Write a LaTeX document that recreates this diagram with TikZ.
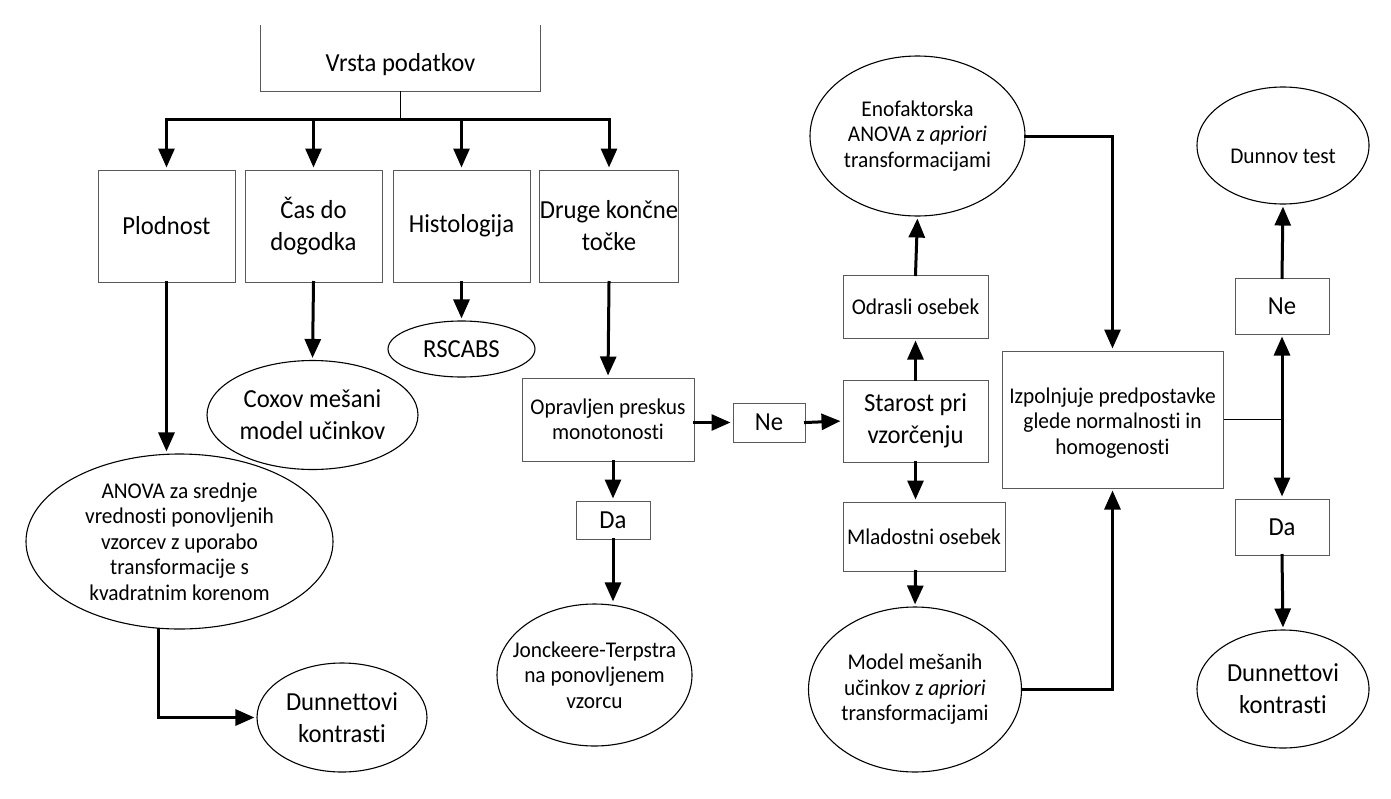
\documentclass[tikz,border=0pt]{standalone}
\usepackage{fontspec}
\setmainfont[FakeStretch=0.95,Ligatures=NoCommon]{Carlito}
\usepackage{tikz}
\usetikzlibrary{arrows.meta,positioning,shapes.geometric,calc}
\newcommand{\bigtxt}{\fontsize{26}{32}\selectfont}
\newcommand{\medtxt}{\fontsize{22.5}{25.5}\selectfont}

\begin{document}
\begin{tikzpicture}[x=1pt,y=-1pt,>={Triangle[length=19pt,width=16pt]},
  edge/.style={draw=black!65,line width=1pt},
  box/.style={rectangle,edge,inner sep=0pt,align=center,font=\bigtxt},
  smallbox/.style={box,font=\medtxt},
  oval/.style={ellipse,draw,line width=1.1pt,inner xsep=-300pt,inner ysep=-300pt,align=center,font=\medtxt},
  conn/.style={line width=3pt,line cap=rect},
  arr/.style={conn,->,shorten >=2pt}]
  \useasboundingbox (0,0) rectangle (1391,798);

  \node[font=\bigtxt,minimum width=279pt,minimum height=52pt,inner sep=0pt] (vrsta) at (400.5,65) {Vrsta podatkov};
  \draw[edge] ([yshift=14pt]vrsta.north west) -- (vrsta.south west) -- (vrsta.south east) -- ([yshift=14pt]vrsta.north east);
  \coordinate (bar) at (400.5,119);

  \node[box,minimum width=137pt,minimum height=112pt] (plod)  at (166.5,226) {Plodnost};
  \node[box,minimum width=137pt,minimum height=112pt] (cas)   at (313.5,226) {Čas do\\dogodka};
  \node[box,minimum width=137pt,minimum height=112pt] (hist)  at (461.5,226) {Histologija};
  \node[box,minimum width=138pt,minimum height=112pt] (druge) at (609,226) {Druge končne\\točke};

  \node[oval,font=\bigtxt,minimum width=147pt,minimum height=56pt] (rscabs) at (461.5,349) {RSCABS};
  \node[oval,font=\bigtxt,minimum width=211pt,minimum height=109pt] (coxov) at (312.5,415) {Coxov mešani\\model učinkov};
  \node[oval,minimum width=307pt,minimum height=175pt] (anova) at (179.5,541.5)
    {ANOVA za srednje\\vrednosti ponovljenih\\vzorcev z uporabo\\transformacije s\\kvadratnim korenom};
  \node[oval,font=\bigtxt,minimum width=170pt,minimum height=109pt] (dunL) at (342,717.5) {Dunnettovi\\kontrasti};

  \node[smallbox,minimum width=172pt,minimum height=83pt] (oprav) at (608,419.5) {Opravljen preskus\\monotonosti};
  \node[box,minimum width=74pt,minimum height=38pt] (daL) at (613,520) {Da};
  \node[oval,minimum width=195pt,minimum height=142pt] (jonck) at (594.5,675) {Jonckeere-Terpstra\\na ponovljenem\\vzorcu};
  \node[box,minimum width=72pt,minimum height=39pt] (neL) at (769,422.5) {Ne};

  \node[box,minimum width=145pt,minimum height=82pt] (starost) at (915.5,421) {Starost pri\\vzorčenju};
  \node[smallbox,minimum width=145pt,minimum height=63pt] (odrasli) at (915.5,306.5) {Odrasli osebek};
  \node[oval,minimum width=215pt,minimum height=160pt] (enof) at (917.5,136) {Enofaktorska\\ANOVA z \textit{apriori}\\transformacijami};
  \node[smallbox,minimum width=162pt,minimum height=69pt] (mlad) at (924,536.5) {Mladostni osebek};
  \node[oval,minimum width=213pt,minimum height=165pt] (model) at (915,689.5) {Model mešanih\\učinkov z \textit{apriori}\\transformacijami};

  \node[smallbox,minimum width=221pt,minimum height=137pt] (izpol) at (1112.5,419.5) {\mbox{}\\[-3pt]Izpolnjuje predpostavke\\glede normalnosti in\\homogenosti};
  \coordinate (split) at (1282,421);
  \node[box,minimum width=94pt,minimum height=56pt] (neR) at (1282,306) {Ne};
  \node[oval,minimum width=172pt,minimum height=117pt,text height=36pt,text depth=0pt] (dunnov) at (1283,145.5) {Dunnov test};
  \node[box,minimum width=94pt,minimum height=56pt] (daR) at (1282,527) {Da};
  \node[oval,font=\bigtxt,minimum width=172pt,minimum height=118pt] (dunR) at (1283,689) {Dunnettovi\\kontrasti};

  \draw[line width=1.5pt] (vrsta.south) -- (bar);
  \draw[conn] (plod.north |- bar) -- (druge.north |- bar);
  \foreach \n in {plod,cas,hist,druge}
    \draw[arr] (\n.north |- bar) -- (\n.north);

  \draw[arr] (plod.south) -- (plod.south |- anova.north);
  \draw[arr] (cas.south) -- (coxov.north);
  \draw[arr] (hist.south) -- (rscabs.north);
  \draw[arr] (druge.south) -- (oprav.north);
  \draw[arr] ([xshift=-21.5pt]anova.south) |- (dunL.west);

  \draw[arr] (oprav.east |- neL) -- (neL.west);
  \draw[arr] (neL.east) -- (starost.west);
  \draw[arr] (daL.north |- oprav.south) -- (daL.north);
  \draw[arr] (daL.south) -- (daL.south |- jonck.north);

  \draw[arr] (starost.north) -- (odrasli.south);
  \draw[arr] (odrasli.north) -- (enof.south);
  \draw[arr] (starost.south) -- (starost.south |- mlad.north);
  \draw[arr] (starost.south |- mlad.south) -- (model.north);
  \draw[arr] (enof.east) -| (izpol.north);
  \draw[arr] (model.east) -| (izpol.south);

  \draw[line width=1.5pt] (izpol.east) -- (izpol.east -| split);
  \draw[arr] (split) -- (neR.south);
  \draw[arr] (split) -- (daR.north);
  \draw[arr] (neR.north) -- (dunnov.south);
  \draw[arr] (daR.south) -- (dunR.north);
\end{tikzpicture}
\end{document}
